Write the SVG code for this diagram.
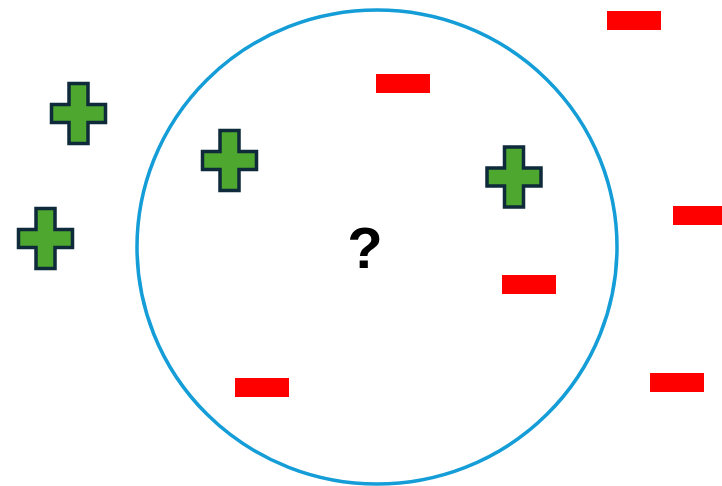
<svg xmlns="http://www.w3.org/2000/svg" width="722" height="486" viewBox="0 0 722 486">
<defs>
<style>
.plus{fill:#4ea72e;stroke:#0e2a3b;stroke-width:3.5;stroke-linejoin:miter}
.minus{fill:#ff0000}
.ring{fill:none;stroke:#149dd7;stroke-width:3.5}
.q{font-family:"Liberation Sans",Arial,sans-serif;font-weight:bold;font-size:58px;fill:#000}
</style>
<path id="plusShape" d="M-9.5,-30 H9.5 V-9 H27 V9 H9.5 V30 H-9.5 V9 H-27 V-9 H-9.5 Z"/>
</defs>
<rect width="722" height="486" fill="#fff"/>
<g id="boundary"><ellipse class="ring" cx="377" cy="247" rx="240" ry="237"/></g>
<g id="plus1"><use href="#plusShape" class="plus" x="78.5" y="113.5"/></g>
<g id="plus2"><use href="#plusShape" class="plus" x="45.5" y="238.5"/></g>
<g id="plus3"><use href="#plusShape" class="plus" x="229.5" y="160.5"/></g>
<g id="plus4"><use href="#plusShape" class="plus" x="514" y="177"/></g>
<g id="minus1"><rect class="minus" x="376" y="74" width="54" height="19"/></g>
<g id="minus2"><rect class="minus" x="607" y="11" width="54" height="19"/></g>
<g id="minus3"><rect class="minus" x="673" y="206" width="54" height="19"/></g>
<g id="minus4"><rect class="minus" x="502" y="275" width="54" height="19"/></g>
<g id="minus5"><rect class="minus" x="235" y="378" width="54" height="19"/></g>
<g id="minus6"><rect class="minus" x="650" y="373" width="54" height="19"/></g>
<g id="query"><text class="q" x="365" y="268" text-anchor="middle">?</text></g>
<g id="connectors"/>
</svg>
